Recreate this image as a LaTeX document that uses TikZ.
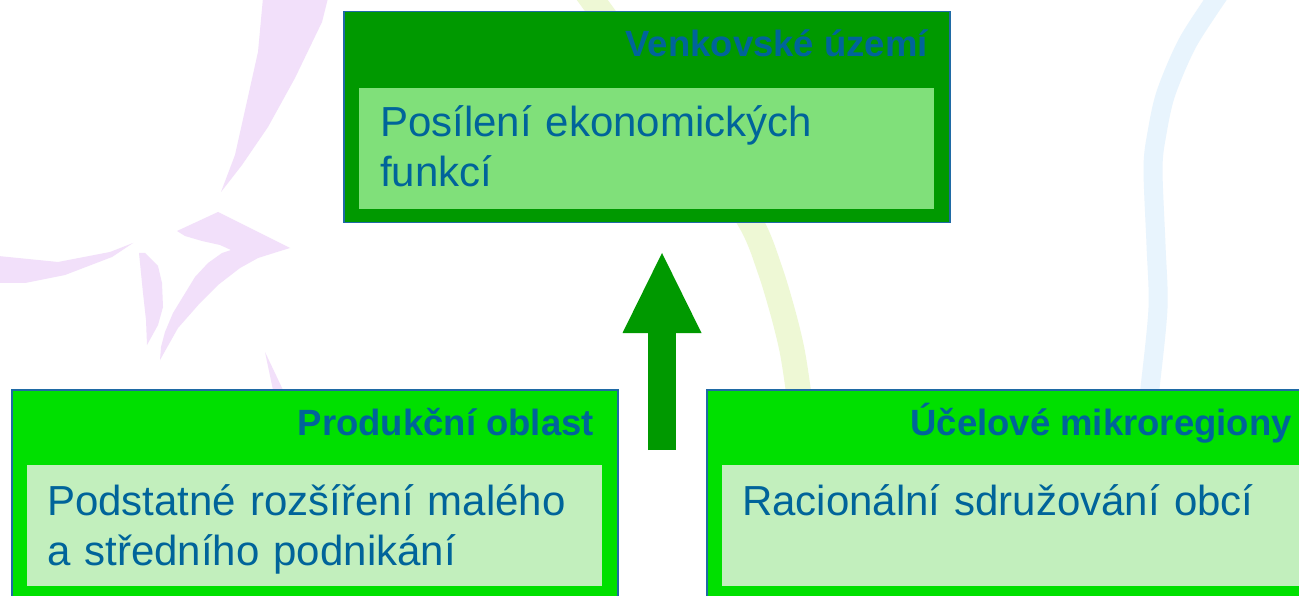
\documentclass[tikz,border=0pt]{standalone}
\usepackage{fontspec}
\setmainfont{Liberation Sans}
\usetikzlibrary{arrows.meta,calc}
\definecolor{darkg}{HTML}{009900}
\definecolor{midg}{HTML}{80E07A}
\definecolor{brightg}{HTML}{00E000}
\definecolor{paleg}{HTML}{C2EFBD}
\definecolor{txtc}{HTML}{00649A}
\definecolor{edgec}{HTML}{1F6AA5}
\definecolor{lilac}{HTML}{F2E0FA}
\definecolor{pyellow}{HTML}{EEF8D5}
\definecolor{pblue}{HTML}{E8F4FD}
\tikzset{
  outerbox/.style={draw=edgec, line width=1.5pt, inner sep=0pt, anchor=north west},
  innerbox/.style={inner sep=0pt, anchor=north west},
  titletext/.style={text=txtc, font=\fontsize{36.5}{44}\selectfont\bfseries, inner sep=0pt, anchor=base east},
  bodytext/.style={text=txtc, font=\fontsize{42}{50}\selectfont, inner sep=0pt, anchor=base west, align=left, text width=560pt},
  bigarrow/.style={draw=darkg, line width=28pt, -{Triangle[length=80pt,width=79pt,line width=0pt,fill=darkg]}}
}
\begin{document}
\begin{tikzpicture}[x=1pt,y=-1pt]
\useasboundingbox (0,0) rectangle (1299,596);
\clip (0,0) rectangle (1299,596);
\fill[white] (0,0) rectangle (1299,596);
% background decorations
\fill[lilac] (263,-2) -- (258,52) -- (235,155) -- (221,192) -- (242,165) -- (268,127) -- (295,78) -- (322,22) -- (328,-2) -- cycle;
\fill[lilac] (177,231) -- (218,212) -- (290,248) -- (277,252) -- (258,258) -- (240,268) -- (218,285) -- (200,303) -- (178,328) -- (160,360) -- (161,347) -- (165,332) -- (173,313) -- (195,277) -- (208,263) -- (222,253) -- (231,250) -- (220,245) -- (202,241) -- (185,236) -- cycle;
\fill[lilac] (-2,256) -- (58,262) -- (110,252) -- (133,243) -- (112,257) -- (65,275) -- (25,283) -- (-2,283) -- cycle;
\fill[lilac] (139,253) -- (145,253) -- (158,266) -- (162,283) -- (163,307) -- (158,325) -- (147,345) -- (146,320) -- (143,293) -- cycle;
\fill[lilac] (265,352) -- (283,390) -- (273,390) -- cycle;
\draw[pyellow, line width=25pt] plot[smooth] coordinates {(585,-10) (640,65) (700,145) (751,223) (770,270) (783,313) (792,350) (798,388) (802,420)};
\draw[pblue, line width=19pt] plot[smooth] coordinates {(1222,-10) (1188,42) (1166,93) (1157,133) (1153,168) (1156,245) (1158,308) (1150,388) (1146,420)};
% top box
\node[outerbox, fill=darkg, minimum width=606pt, minimum height=211pt] (top) at (343,11) {};
\node[innerbox, fill=midg, minimum width=575pt, minimum height=121pt] (topin) at (359,88) {};
\node[titletext] (toptitle) at (928,57) {Venkovské území};
\node[bodytext] (toptext) at (380,137) {Posílení ekonomických\\funkcí};
% bottom left box
\node[outerbox, fill=brightg, minimum width=606pt, minimum height=240pt] (left) at (11,389) {};
\node[innerbox, fill=paleg, minimum width=575pt, minimum height=121pt] (leftin) at (27,465) {};
\node[titletext] (lefttitle) at (594,435) {Produkční oblast};
\node[bodytext] (lefttext) at (47,515) {Podstatné rozšíření malého\\a středního podnikání};
% bottom right box
\node[outerbox, fill=brightg, minimum width=620pt, minimum height=240pt] (right) at (706,389) {};
\node[innerbox, fill=paleg, minimum width=600pt, minimum height=121pt] (rightin) at (722,465) {};
\node[titletext] (righttitle) at (1292,435) {Účelové mikroregiony};
\node[bodytext] (righttext) at (742,515) {Racionální sdružování obcí};
% arrow
\coordinate (atail) at (662,450);
\coordinate (atip) at (662,253);
\draw[bigarrow] (atail) -- (atip);
\end{tikzpicture}
\end{document}
